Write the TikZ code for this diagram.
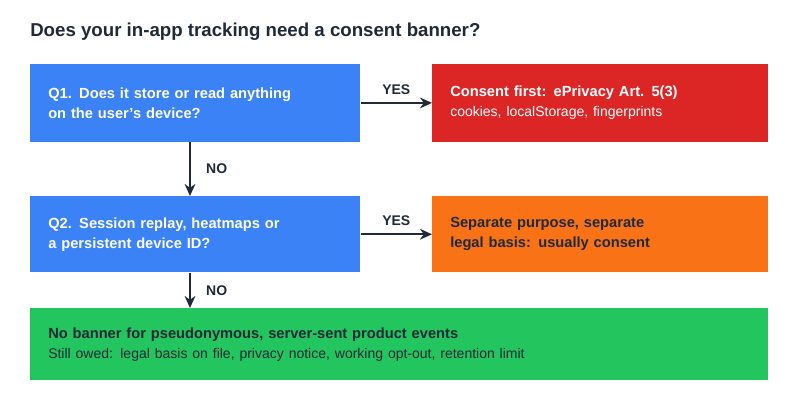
\documentclass[tikz,border=0pt]{standalone}
\usepackage{fontspec}
\setmainfont{Liberation Sans}
\usetikzlibrary{positioning,arrows.meta}
\definecolor{qblue}{HTML}{3B82F6}
\definecolor{cred}{HTML}{DC2626}
\definecolor{corange}{HTML}{F97316}
\definecolor{cgreen}{HTML}{22C55E}
\definecolor{ink}{HTML}{1F2937}
\tikzset{
  >={Stealth[length=9pt,width=8pt]},
  box/.style={rectangle, anchor=north west, inner xsep=13.5pt, align=left,
              font=\fontsize{11}{15}\selectfont, minimum height=58pt},
  qbox/.style={box, fill=qblue, text=white, text width=220.5pt},
  abox/.style={box, text width=225pt},
  flow/.style={->, line width=1.6pt, draw=ink},
  tag/.style={font=\bfseries\fontsize{10.5}{12}\selectfont, text=ink}
}
\begin{document}
\begin{tikzpicture}[x=0.75pt,y=-0.75pt]
\useasboundingbox (0,0) rectangle (800,400);
\node[anchor=west, font=\bfseries\fontsize{14}{16}\selectfont, text=ink, inner sep=0pt]
  (title) at (30,32) {Does your in-app tracking need a consent banner?};
% questions
\node[qbox] (q1) at (30,64) {\textbf{Q1. Does it store or read anything}\\\textbf{on the user's device?}};
\node[qbox, minimum height=57pt] (q2) at (30,196) {\textbf{Q2. Session replay, heatmaps or}\\\textbf{a persistent device ID?}};
% outcomes
\node[abox, fill=cred, text=white] (consent) at (432,64)
  {\textbf{Consent first: ePrivacy Art. 5(3)}\\{\fontsize{10.5}{15}\selectfont cookies, localStorage, fingerprints}};
\node[abox, fill=corange, text=ink, minimum height=57pt] (purpose) at (432,196)
  {\textbf{Separate purpose, separate}\\\textbf{legal basis: usually consent}};
\node[box, fill=cgreen, text=ink, text width=526.5pt, minimum height=54pt] (nobanner) at (30,308)
  {\textbf{No banner for pseudonymous, server-sent product events}\\{\fontsize{10.5}{16}\selectfont Still owed: legal basis on file, privacy notice, working opt-out, retention limit}};
% connectors
\draw[flow] (q1.east) -- node[tag, above=2pt] {YES} (consent.west);
\draw[flow] (q2.east) -- node[tag, above=2pt] {YES} (purpose.west);
\draw[flow] (q1.south -| 190,0) -- node[tag, right=8pt] {NO} (q2.north -| 190,0);
\draw[flow] (q2.south -| 190,0) -- node[tag, right=8pt] {NO} (nobanner.north -| 190,0);
\end{tikzpicture}
\end{document}
